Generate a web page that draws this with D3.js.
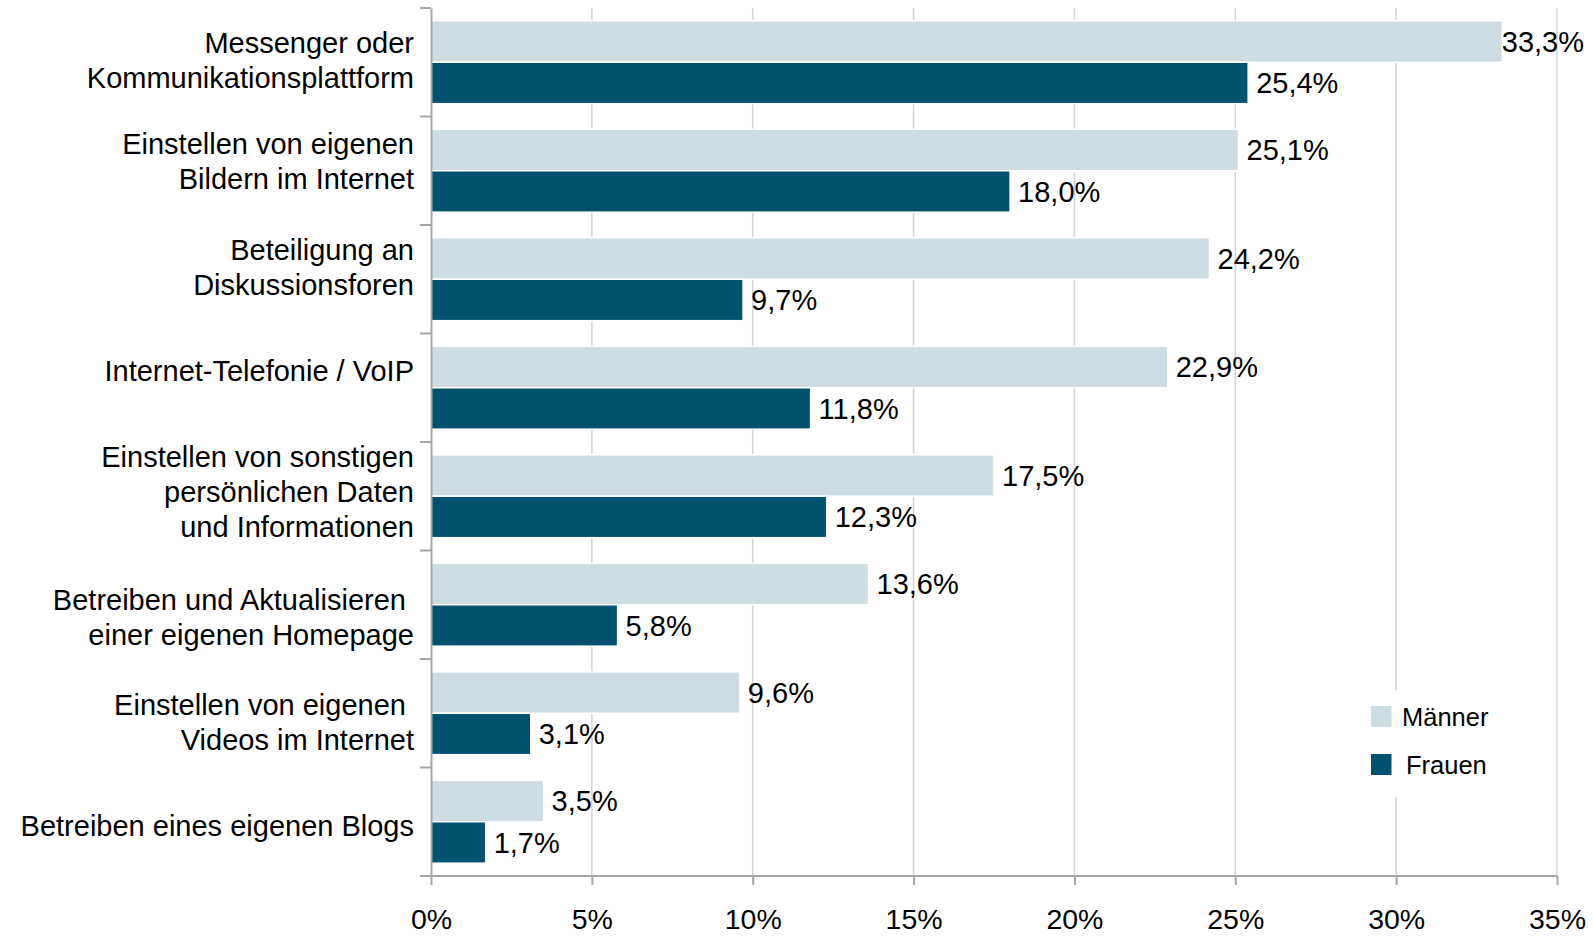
<!DOCTYPE html>
<html lang="de">
<head>
<meta charset="utf-8">
<script src="https://cdn.jsdelivr.net/npm/d3@7"></script>
<style>
  html, body { margin: 0; padding: 0; background: #fff; }
  svg { display: block; font-family: 'Liberation Sans', Arial, sans-serif; }
</style>
</head>
<body>
<div id="dataviz"></div>
<script>

// ━━━━━━━━━━━━━━━━━━━━━━━━━━━━━━━━━━━━━━━━━━━━━━━━━━━━━━━━━━━━━━━━━━━━━━━━━━━━━━
// Data /////////////////////////////////////////////////////////////////////////
// ━━━━━━━━━━━━━━━━━━━━━━━━━━━━━━━━━━━━━━━━━━━━━━━━━━━━━━━━━━━━━━━━━━━━━━━━━━━━━━

const categories = [
  ['Messenger oder', 'Kommunikationsplattform'],
  ['Einstellen von eigenen', 'Bildern im Internet'],
  ['Beteiligung an', 'Diskussionsforen'],
  ['Internet-Telefonie / VoIP'],
  ['Einstellen von sonstigen', 'persönlichen Daten', 'und Informationen'],
  ['Betreiben und Aktualisieren ', 'einer eigenen Homepage'],
  ['Einstellen von eigenen ', 'Videos im Internet'],
  ['Betreiben eines eigenen Blogs']
];

const series      = ['Männer', 'Frauen'];
const maenner     = [33.3, 25.1, 24.2, 22.9, 17.5, 13.6, 9.6, 3.5];
const frauen      = [25.4, 18.0, 9.7, 11.8, 12.3, 5.8, 3.1, 1.7];
const xTicks      = [0, 5, 10, 15, 20, 25, 30, 35];

// ━━━━━━━━━━━━━━━━━━━━━━━━━━━━━━━━━━━━━━━━━━━━━━━━━━━━━━━━━━━━━━━━━━━━━━━━━━━━━━
// SVG setup ////////////////////////////////////////////////////////////////////
// ━━━━━━━━━━━━━━━━━━━━━━━━━━━━━━━━━━━━━━━━━━━━━━━━━━━━━━━━━━━━━━━━━━━━━━━━━━━━━━

const width = 1594, height = 936;
const colors = { 'Männer': '#cedde4', 'Frauen': '#02516e' };

const svg = d3.select('#dataviz').append('svg')
  .attr('viewBox', [0, 0, width, height])
  .attr('width', width)
  .attr('height', height);

const   grid = svg.append('g').attr('id', 'grid');
const   bars = svg.append('g').attr('id', 'bars');
const axes   = svg.append('g').attr('id', 'axes');
const labels = svg.append('g').attr('id', 'labels');
const legend = svg.append('g').attr('id', 'legend');

const keys = categories.map((d, i) => i);

const x = d3.scaleLinear().domain([0, 35]).range([431, 1557]);
const y = d3.scaleBand().domain(keys).range([8, 876]);
const ySub = d3.scaleBand().domain(series).range([0, y.bandwidth()]).paddingInner(0).paddingOuter(0.31);

// ━━━━━━━━━━━━━━━━━━━━━━━━━━━━━━━━━━━━━━━━━━━━━━━━━━━━━━━━━━━━━━━━━━━━━━━━━━━━━━
// Grid + axes //////////////////////////////////////////////////////////////////
// ━━━━━━━━━━━━━━━━━━━━━━━━━━━━━━━━━━━━━━━━━━━━━━━━━━━━━━━━━━━━━━━━━━━━━━━━━━━━━━

grid.selectAll('line')
  .data(xTicks.filter(t => t > 0))
  .join('line')
  .attr('x1', d => x(d)).attr('x2', d => x(d))
  .attr('y1', 8).attr('y2', 876)
  .attr('stroke', '#d4d4d4')
  .attr('stroke-width', 1.5);

const xAxis = axes.append('g')
  .attr('transform', `translate(0,876)`)
  .call(d3.axisBottom(x).tickValues(xTicks).tickSize(9).tickPadding(24).tickFormat(d => d + '%'));

const yAxis = axes.append('g')
  .attr('transform', `translate(${x(0)},0)`)
  .call(d3.axisLeft(y).tickValues([]).tickSizeOuter(0));

// category boundary ticks
yAxis.selectAll('line.sep')
  .data(d3.range(keys.length + 1))
  .join('line')
  .attr('class', 'sep')
  .attr('x1', -11).attr('x2', 0)
  .attr('y1', d => 8 + d * y.step()).attr('y2', d => 8 + d * y.step());

axes.selectAll('path.domain').attr('stroke', '#a6a6a6').attr('stroke-width', 2);
axes.selectAll('line').attr('stroke', '#a6a6a6').attr('stroke-width', 2);
xAxis.select('path.domain').attr('d', `M${x(0) - 11},0H${x(35)}`);
xAxis.selectAll('text')
  .attr('font-size', 28.5)
  .attr('font-family', null)
  .attr('fill', '#000');

// ━━━━━━━━━━━━━━━━━━━━━━━━━━━━━━━━━━━━━━━━━━━━━━━━━━━━━━━━━━━━━━━━━━━━━━━━━━━━━━
// Bars /////////////////////////////////////////////////////////////////////////
// ━━━━━━━━━━━━━━━━━━━━━━━━━━━━━━━━━━━━━━━━━━━━━━━━━━━━━━━━━━━━━━━━━━━━━━━━━━━━━━

const rows = keys.flatMap(i => [
  { cat: i, s: 'Männer', v: maenner[i] },
  { cat: i, s: 'Frauen', v: frauen[i] }
]);

bars.selectAll('rect')
  .data(rows)
  .join('rect')
  .attr('x', x(0))
  .attr('y', d => y(d.cat) + ySub(d.s))
  .attr('width', d => x(d.v) - x(0))
  .attr('height', ySub.bandwidth())
  .attr('fill', d => colors[d.s])
  .attr('stroke', '#fff')
  .attr('stroke-width', 1.5);

// labels sit a little right of the bar end, but are pushed back inside the chart if too long
const rightEdge = 1584;
bars.selectAll('text')
  .data(rows)
  .join('text')
  .attr('y', d => y(d.cat) + ySub(d.s) + ySub.bandwidth() / 2)
  .attr('dy', '0.36em')
  .attr('font-size', 29)
  .attr('fill', '#000')
  .text(d => d.v.toFixed(1).replace('.', ',') + '%')
  .attr('x', function (d) {
    const w = this.getComputedTextLength();
    return Math.min(x(d.v) + 8, rightEdge - w);
  });

// redraw the axis line over the bars
axes.raise();
labels.raise();

// ━━━━━━━━━━━━━━━━━━━━━━━━━━━━━━━━━━━━━━━━━━━━━━━━━━━━━━━━━━━━━━━━━━━━━━━━━━━━━━
// Category labels //////////////////////////////////////////////////////////////
// ━━━━━━━━━━━━━━━━━━━━━━━━━━━━━━━━━━━━━━━━━━━━━━━━━━━━━━━━━━━━━━━━━━━━━━━━━━━━━━

// the original placed its labels a bit off-centre, these nudge them (px)
const labelNudge = [-2.5, -10, -12.5, -17, -4.5, 12.5, 9, 4];
const lineGap = 35;

labels.selectAll('text')
  .data(keys)
  .join('text')
  .attr('text-anchor', 'end')
  .attr('font-size', 29)
  .attr('fill', '#000')
  .style('white-space', 'pre')
  .each(function (i) {
    const lines = categories[i];
    const mid = y(i) + y.bandwidth() / 2 + labelNudge[i];
    d3.select(this).selectAll('tspan')
      .data(lines)
      .join('tspan')
      .attr('x', 414)
      .attr('y', (d, j) => mid + 10.4 + (j - (lines.length - 1) / 2) * lineGap)
      .text(d => d);
  });

// ━━━━━━━━━━━━━━━━━━━━━━━━━━━━━━━━━━━━━━━━━━━━━━━━━━━━━━━━━━━━━━━━━━━━━━━━━━━━━━
// Legend ///////////////////////////////////////////////////////////////////////
// ━━━━━━━━━━━━━━━━━━━━━━━━━━━━━━━━━━━━━━━━━━━━━━━━━━━━━━━━━━━━━━━━━━━━━━━━━━━━━━

legend.attr('transform', 'translate(1355,690)');
legend.append('rect').attr('width', 140).attr('height', 107).attr('fill', '#fff');

const item = legend.selectAll('g.item')
  .data(series)
  .join('g')
  .attr('class', 'item')
  .attr('transform', (d, i) => `translate(16,${16 + i * 48})`);

item.append('rect')
  .attr('width', 20.5).attr('height', 21)
  .attr('fill', d => colors[d]);

item.append('text')
  .attr('x', (d, i) => i === 0 ? 31 : 35)
  .attr('y', 20)
  .attr('font-size', 25.5)
  .attr('fill', '#000')
  .text(d => d);

</script>
</body>
</html>
